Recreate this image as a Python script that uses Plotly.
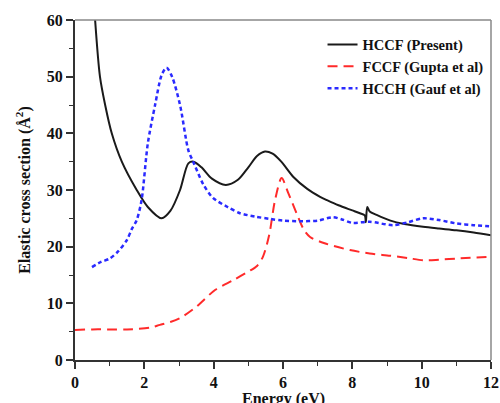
import plotly.graph_objects as go

# HCCF (Present)
hccf_e = [0.58, 0.72, 0.87, 1.06, 1.35, 1.78, 2.1, 2.5, 2.75, 3.03, 3.27, 3.42, 3.65, 3.95,
          4.35, 4.7, 5.0, 5.25, 5.48, 5.7, 5.95, 6.3, 6.7, 7.07, 7.27, 7.6, 8.0, 8.22, 8.36,
          8.39, 8.43, 8.5, 8.7, 9.1, 9.5, 10.04, 10.5, 11.0, 11.5, 12.0]
hccf_y = [60, 50, 45, 40, 35, 30, 27, 25, 26.3, 30, 34.7, 35, 34, 32,
          30.9, 31.8, 34, 36, 36.8, 36.4, 35, 32.3, 30.2, 28.8, 28.2, 27.3, 26.4, 25.9, 25.5,
          24.3, 27.0, 26.2, 25.6, 24.6, 24.0, 23.5, 23.2, 22.9, 22.5, 22.0]

# FCCF (Gupta et al)
fccf_e = [0, 0.5, 1.0, 1.5, 2.16, 2.45, 2.75, 3.03, 3.5, 4.04, 4.57, 5.0, 5.25, 5.42, 5.6,
          5.77, 5.96, 6.15, 6.39, 6.6, 6.78, 7.2, 7.93, 8.5, 9.09, 9.6, 10.04, 10.5, 11.0, 12.0]
fccf_y = [5.3, 5.4, 5.4, 5.4, 5.7, 6.2, 6.7, 7.4, 9.4, 12.35, 14.1, 15.6, 16.6, 18.2, 22,
          28.2, 32.1, 29.5, 25.9, 23, 21.7, 20.6, 19.4, 18.8, 18.4, 18.0, 17.6, 17.7, 17.9, 18.2]

# HCCH (Gauf et al)
hcch_e = [0.49, 0.75, 1.0, 1.25, 1.5, 1.63, 1.78, 1.92, 2.1, 2.31, 2.5, 2.64, 2.8, 3.03, 3.27,
          3.41, 3.7, 3.98, 4.4, 4.76, 5.2, 5.62, 6.0, 6.5, 7.0, 7.44, 7.7, 8.0, 8.5, 9.17, 9.6,
          10.04, 10.5, 11.0, 11.5, 12.0]
hcch_y = [16.4, 17.3, 17.9, 19.2, 21.2, 23, 24.7, 28.2, 38.2, 45, 50.3, 51.6, 50, 45, 37,
          35, 31, 28.6, 27, 25.9, 25.3, 24.9, 24.6, 24.5, 24.6, 25.2, 24.8, 24.2, 24.4, 23.8, 24.3,
          25.0, 24.7, 24.1, 23.8, 23.6]

x_ticks = [0, 2, 4, 6, 8, 10, 12]
y_ticks = [0, 10, 20, 30, 40, 50, 60]

font_family = "Liberation Serif"

fig = go.Figure()
fig.add_trace(go.Scatter(x=hccf_e, y=hccf_y, mode="lines", name="<b>HCCF (Present)</b>",
                         line=dict(color="#1a1a1a", width=2, shape="spline", smoothing=0.8)))
fig.add_trace(go.Scatter(x=fccf_e, y=fccf_y, mode="lines", name="<b>FCCF (Gupta et al)</b>",
                         line=dict(color="#ff2a2a", width=2, dash="10px,6px", shape="spline", smoothing=0.8)))
fig.add_trace(go.Scatter(x=hcch_e, y=hcch_y, mode="lines", name="<b>HCCH (Gauf et al)</b>",
                         line=dict(color="#2a2aff", width=2.5, dash="4px,3px", shape="spline", smoothing=0.8)))

axis_common = dict(
    showgrid=False, zeroline=False, showline=True, linecolor="#333333", linewidth=2,
    ticks="outside", ticklen=7, tickwidth=1.5, tickcolor="#333333", automargin=False,
    tickfont=dict(family=font_family, size=16, color="#111111"),
    minor=dict(ticks="outside", ticklen=4, tickwidth=1.2, tickcolor="#333333"),
)

fig.update_xaxes(range=[0, 12], tickvals=x_ticks, ticktext=[f"<b>{v}</b>" for v in x_ticks],
                 dtick=2, **axis_common)
fig.update_xaxes(minor=dict(dtick=1))
fig.update_yaxes(range=[0, 60], tickvals=y_ticks, ticktext=[f"<b>{v}</b>" for v in y_ticks],
                 dtick=10, title=dict(text="<b>Elastic cross section (Å<sup>2</sup>)</b>", standoff=12,
                                      font=dict(family=font_family, size=16, color="#111111")),
                 **axis_common)
fig.update_yaxes(minor=dict(dtick=5))

# x axis title as annotation (partially cut at bottom like the reference)
fig.add_annotation(text="<b>Energy (eV)</b>", xref="paper", yref="paper", x=0.5, y=-0.083,
                   xanchor="center", yanchor="top", showarrow=False,
                   font=dict(family=font_family, size=16, color="#111111"))

# top and right frame lines
fig.add_shape(type="line", xref="paper", yref="paper", x0=0, x1=1, y0=1, y1=1,
              line=dict(color="#888888", width=1.5))
fig.add_shape(type="line", xref="paper", yref="paper", x0=1, x1=1, y0=0, y1=1,
              line=dict(color="#888888", width=1.5))

fig.update_layout(
    width=500, height=403,
    margin=dict(l=75, r=9, t=20, b=43),
    paper_bgcolor="white", plot_bgcolor="white",
    showlegend=True,
    legend=dict(x=0.595, y=0.975, xanchor="left", yanchor="top",
                bgcolor="rgba(0,0,0,0)", tracegroupgap=0,
                font=dict(family=font_family, size=14.5, color="#111111")),
)

fig.write_html("out.html", config={"displayModeBar": False},
               post_script="document.body.style.margin='0';document.body.style.overflow='hidden';")
